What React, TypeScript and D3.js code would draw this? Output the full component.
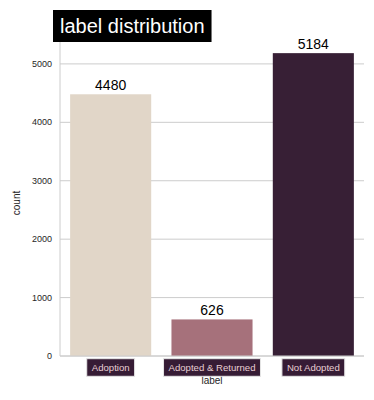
import { useEffect, useRef } from "react";
import * as d3 from "d3";

const categories = ["Adoption", "Adopted & Returned", "Not Adopted"];
const counts = [4480, 626, 5184];
const barColors = ["#e1d6c8", "#a6717b", "#371f35"];
const yTicks = [0, 1000, 2000, 3000, 4000, 5000];

const App = () => {
  const svgRef = useRef<SVGSVGElement>(null);

  useEffect(() => {
    const W = 374;
    const H = 400;
    const margin = { top: 38, right: 10, bottom: 44, left: 60 };
    const width = W - margin.left - margin.right;

    const svg = d3.select(svgRef.current);
    svg.selectAll("*").remove();
    svg.attr("width", W).attr("height", H).style("font-family", "Arial, 'Liberation Sans', sans-serif");

    const x = d3.scaleBand().domain(categories).range([0, width]).padding(0.2).paddingOuter(0.1);
    const y = d3
      .scaleLinear()
      .domain([0, (d3.max(counts) as number) * 1.05])
      .range([318, 0]);

    const g = svg.append("g").attr("transform", `translate(${margin.left},${margin.top})`);

    // grid
    g.selectAll(".grid")
      .data(yTicks)
      .enter()
      .append("line")
      .attr("x1", 0)
      .attr("x2", width)
      .attr("y1", (d) => y(d))
      .attr("y2", (d) => y(d))
      .attr("stroke", "#cccccc")
      .attr("stroke-width", 1);

    // bars
    g.selectAll(".bar")
      .data(counts)
      .enter()
      .append("rect")
      .attr("x", (_, i) => x(categories[i]) as number)
      .attr("width", x.bandwidth())
      .attr("y", (d) => y(d))
      .attr("height", (d) => y(0) - y(d))
      .attr("fill", (_, i) => barColors[i]);

    // value labels
    g.selectAll(".val")
      .data(counts)
      .enter()
      .append("text")
      .attr("x", (_, i) => (x(categories[i]) as number) + x.bandwidth() / 2)
      .attr("y", (d) => y(d) - 4)
      .attr("text-anchor", "middle")
      .attr("font-size", 14)
      .attr("fill", "#000")
      .text((d) => d);

    // spines
    g.append("line")
      .attr("x1", 0).attr("x2", 0)
      .attr("y1", 0).attr("y2", y(0))
      .attr("stroke", "#cccccc");
    g.append("line")
      .attr("x1", 0).attr("x2", width)
      .attr("y1", y(0)).attr("y2", y(0))
      .attr("stroke", "#cccccc");

    // y tick labels
    g.selectAll(".ytick")
      .data(yTicks)
      .enter()
      .append("text")
      .attr("x", -8)
      .attr("y", (d) => y(d))
      .attr("dy", "0.35em")
      .attr("text-anchor", "end")
      .attr("font-size", 9)
      .attr("fill", "#262626")
      .text((d) => d);

    // y axis label
    g.append("text")
      .attr("transform", `translate(${-40},${y(0) / 2 + 6}) rotate(-90)`)
      .attr("text-anchor", "middle")
      .attr("font-size", 10)
      .attr("fill", "#262626")
      .text("count");

    // x axis label
    g.append("text")
      .attr("x", width / 2)
      .attr("y", y(0) + 28)
      .attr("text-anchor", "middle")
      .attr("font-size", 10)
      .attr("fill", "#262626")
      .text("label");

    // x tick labels in dark boxes
    const ticks = g
      .selectAll(".xtick")
      .data(categories)
      .enter()
      .append("g")
      .attr("transform", (d) => `translate(${(x(d) as number) + x.bandwidth() / 2},${y(0) + 11.5})`);
    ticks.each(function (d) {
      const t = d3.select(this);
      const txt = t
        .append("text")
        .attr("text-anchor", "middle")
        .attr("dy", "0.35em")
        .attr("font-size", 9.6)
        .attr("fill", "#e8cfd4")
        .text(d);
      const bb = (txt.node() as SVGTextElement).getBBox();
      t.insert("rect", "text")
        .attr("x", bb.x - 5)
        .attr("y", -8.8)
        .attr("width", bb.width + 10)
        .attr("height", 17.6)
        .attr("fill", "#361c35")
        .attr("stroke", "#e6e6e6")
        .attr("stroke-width", 1);
    });

    // title
    const title = svg.append("g").attr("transform", "translate(53,10)");
    const tt = title
      .append("text")
      .attr("x", 7)
      .attr("y", 23)
      .attr("font-size", 20)
      .attr("fill", "#fff")
      .text("label distribution");
    const tb = (tt.node() as SVGTextElement).getBBox();
    title.insert("rect", "text")
      .attr("x", 0)
      .attr("y", 0)
      .attr("width", tb.width + 14)
      .attr("height", 32)
      .attr("fill", "#000");
  }, []);

  return (
    <div style={{ margin: -8 }}>
      <svg ref={svgRef}></svg>
    </div>
  );
};

export default App;
